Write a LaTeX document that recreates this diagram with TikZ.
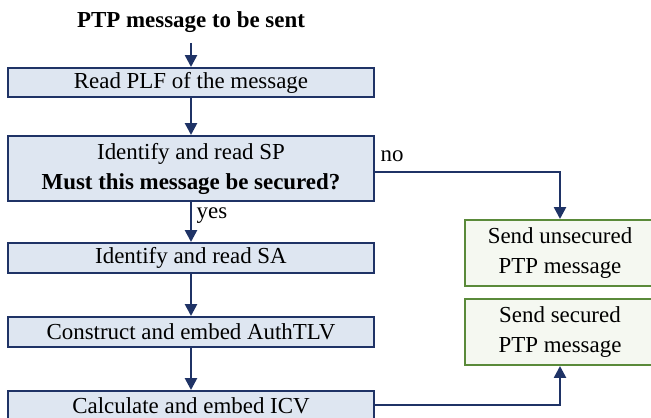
\documentclass[tikz,border=0pt]{standalone}
\usepackage{fontspec}
\setmainfont{Liberation Serif}
\usetikzlibrary{positioning,arrows.meta}

\definecolor{boxblue}{HTML}{DEE6F1}
\definecolor{navy}{HTML}{1F3366}
\definecolor{boxgreen}{HTML}{F5F8F1}
\definecolor{edgegreen}{HTML}{5A8A3A}

\tikzset{
  txt/.style={font=\fontsize{16.3}{21.3}\selectfont, inner sep=0pt},
  stepbox/.style={txt, draw=navy, line width=1.4pt, fill=boxblue,
    minimum width=9.15cm, minimum height=0.75cm, align=center},
  sendbox/.style={txt, draw=edgegreen, line width=1.4pt, fill=boxgreen,
    minimum width=4.75cm, minimum height=1.65cm, align=center},
  flow/.style={draw=navy, line width=1.8pt, -{Triangle[length=0.3cm,width=0.3cm]}},
}

\begin{document}
\begin{tikzpicture}

%% 範囲
\useasboundingbox (0,0) rectangle (16.275,-10.45);
\clip (0,0) rectangle (16.275,-10.45);

%% 箱
\node[txt, font=\fontsize{16.3}{21.3}\selectfont\bfseries] (title) at (4.775,-0.55) {PTP message to be sent};
\node[stepbox, minimum height=0.725cm] (plf) at (4.775,-2.0625) {Read PLF of the message};
\node[stepbox, minimum height=1.625cm] (sp) at (4.775,-4.2125) {Identify and read SP\\\textbf{Must this message be secured?}};
\node[stepbox] (sa) at (4.775,-6.45) {Identify and read SA};
\node[stepbox] (auth) at (4.775,-8.3) {Construct and embed AuthTLV};
\node[stepbox] (icv) at (4.775,-10.15) {Calculate and embed ICV};

\node[sendbox] (unsec) at (14.0,-6.325) {Send unsecured\\PTP message};
\node[sendbox] (sec) at (14.0,-8.3) {Send secured\\PTP message};

%% 矢印
\draw[flow] ([yshift=-0.25cm]title.south) -- (plf.north);
\draw[flow] (plf) -- (sp);
\draw[flow] (sp) -- (sa);
\draw[flow] (sa) -- (auth);
\draw[flow] (auth) -- (icv);

\draw[flow] ([yshift=-0.09cm]sp.east) -| (unsec.north);
\draw[flow] ([yshift=0.03cm]icv.east) -| (sec.south);

%% ラベル
\node[txt] (lblno) at (9.8,-3.9) {no};
\node[txt] (lblyes) at (5.3,-5.4) {yes};

\end{tikzpicture}
\end{document}
